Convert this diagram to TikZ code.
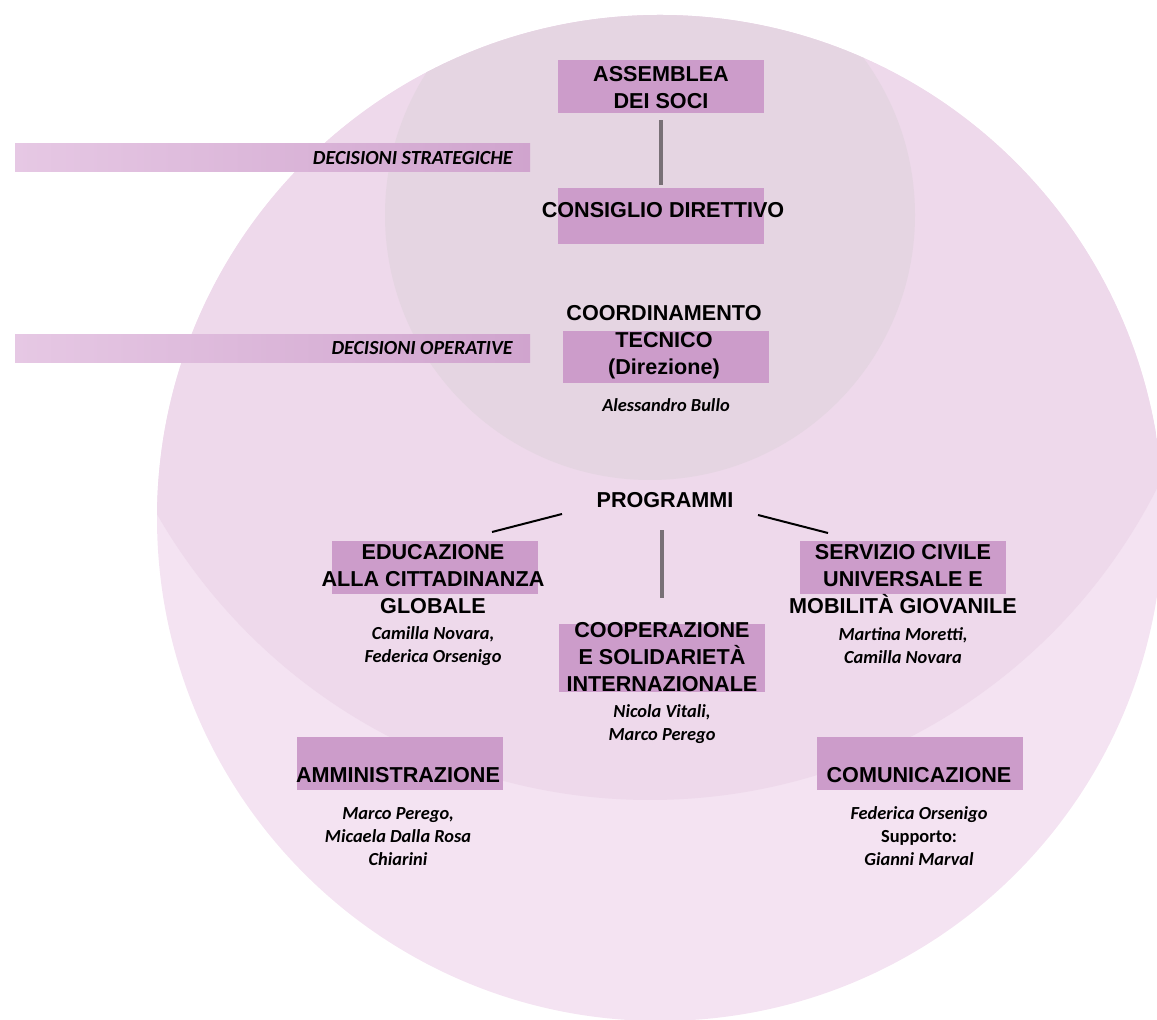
\documentclass[tikz,border=0pt]{standalone}
\usepackage{fontspec}
\setmainfont{Liberation Sans}
\newfontfamily\namefont{Carlito}
\usetikzlibrary{calc}
\definecolor{outerpink}{RGB}{244,227,242}
\definecolor{midpink}{RGB}{238,217,235}
\definecolor{innergray}{RGB}{229,213,226}
\definecolor{boxpurple}{RGB}{204,156,202}
\definecolor{bandlight}{RGB}{230,200,228}
\definecolor{bandpurple}{RGB}{208,164,206}
\definecolor{linegray}{RGB}{120,112,118}

\begin{document}
\begin{tikzpicture}[x=.5pt,y=-.5pt,
  box/.style={fill=boxpurple,inner sep=0,minimum width=103pt},
  ttl/.style={font=\bfseries\fontsize{10.8}{13.5}\selectfont,align=center,inner sep=0},
  nms/.style={font=\namefont\bfseries\itshape\fontsize{9.2}{11.5}\selectfont,align=center,inner sep=0},
  dec/.style={font=\namefont\bfseries\itshape\fontsize{10}{12}\selectfont,anchor=east,inner sep=0},
  vline/.style={draw=linegray,line width=2pt},
  dline/.style={draw=black,line width=1pt}]
\useasboundingbox (0,0) rectangle (1157,1020);
\fill[outerpink] (660,518) circle (503);
\begin{scope}
\clip (660,518) circle (503);
\fill[midpink] (650,232) circle (568);
\fill[innergray] (650,215) circle (265);
\end{scope}
\foreach \y in {158,348.5}
  \shade[left color=bandlight,right color=bandpurple] (15,\y-14) rectangle (530,\y+14);
\foreach \n/\x/\y/\h in {ass/661/86.5/53,cons/661/216/56,coord/666/357/52,edu/434.5/567.5/53,
                         coop/661.5/658/68,serv/902.5/567.5/53,amm/400/763.5/53,com/919.5/763.5/53}
  \node[box,minimum height=\h*.5pt] (\n-bx) at (\x,\y) {};
\node[dec] (strat) at (513,158) {DECISIONI STRATEGICHE};
\node[dec] (oper) at (513,348.5) {DECISIONI OPERATIVE};
\node[ttl] (ass) at (661,88) {ASSEMBLEA\\DEI SOCI};
\node[ttl] (cons) at (663,210) {CONSIGLIO DIRETTIVO};
\node[ttl] (coord) at (664,342) {COORDINAMENTO\\TECNICO\\(Direzione)};
\node[nms] (coordn) at (666,405) {Alessandro Bullo};
\node[ttl] (prog) at (665,500) {PROGRAMMI};
\node[ttl] (edu) at (433,579) {EDUCAZIONE\\ALLA CITTADINANZA\\GLOBALE};
\node[nms] (edun) at (433,646) {Camilla Novara,\\Federica Orsenigo};
\node[ttl] (coop) at (662,657) {COOPERAZIONE\\E SOLIDARIETÀ\\INTERNAZIONALE};
\node[nms] (coopn) at (662,724) {Nicola Vitali,\\Marco Perego};
\node[ttl] (serv) at (903,579) {SERVIZIO CIVILE\\UNIVERSALE E\\MOBILITÀ GIOVANILE};
\node[nms] (servn) at (903,646) {Martina Moretti,\\Camilla Novara};
\node[ttl] (amm) at (398,775) {AMMINISTRAZIONE};
\node[nms] (ammn) at (398,837) {Marco Perego,\\Micaela Dalla Rosa\\Chiarini};
\node[ttl] (com) at (919,775) {COMUNICAZIONE};
\node[nms] (comn) at (919,836) {Federica Orsenigo\\{\upshape Supporto:}\\Gianni Marval};
\coordinate (pl) at (562,514);
\coordinate (el) at (492,532);
\coordinate (pr) at (758,515);
\coordinate (sr) at (828,533);
\draw[vline,shorten <=3.5pt,shorten >=1.5pt] (ass-bx.south) -- (cons-bx.north);
\draw[vline,shorten <=11pt,shorten >=13pt] (coop-bx.north |- prog.south) -- (coop-bx.north);
\draw[dline] (pl) -- (el);
\draw[dline] (pr) -- (sr);
\end{tikzpicture}
\end{document}
